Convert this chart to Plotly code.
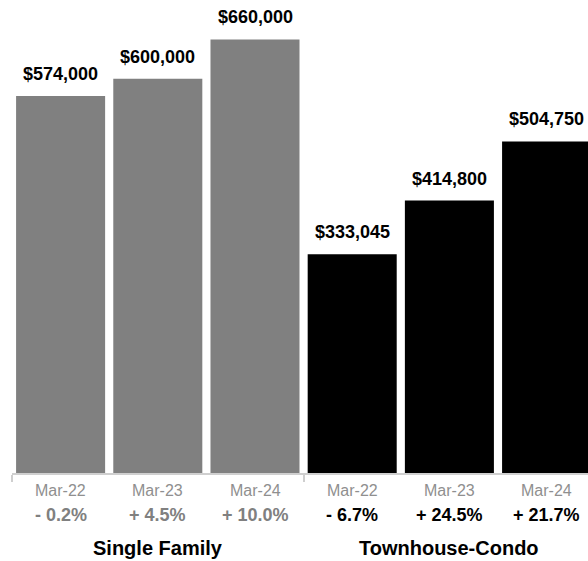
import plotly.graph_objects as go

# Median sale price by month, two property types
months = ["Mar-22", "Mar-23", "Mar-24"]
groups = ["Single Family", "Townhouse-Condo"]
single_family = [574000, 600000, 660000]
townhouse_condo = [333045, 414800, 504750]
sf_change = [-0.2, 4.5, 10.0]
tc_change = [-6.7, 24.5, 21.7]

FONT = "Liberation Sans, Arial, Helvetica, sans-serif"
SF_COLOR = "#808080"
TC_COLOR = "#000000"
LABEL_GRAY = "#8f8f8f"
AXIS_GRAY = "#cfcfcf"


def fmt_price(v):
    return "${:,}".format(v)


def fmt_change(v):
    sign = "+" if v >= 0 else "-"
    return f"{sign} {abs(v):.1f}%"


n = len(months)
sf_x = list(range(n))
tc_x = [n + i for i in range(n)]

fig = go.Figure()
fig.add_trace(go.Bar(x=sf_x, y=single_family, marker=dict(color=SF_COLOR, line=dict(width=0)),
                     name=groups[0], hoverinfo="skip"))
fig.add_trace(go.Bar(x=tc_x, y=townhouse_condo, marker=dict(color=TC_COLOR, line=dict(width=0)),
                     name=groups[1], hoverinfo="skip"))

annotations = []
series = [
    (sf_x, single_family, sf_change, SF_COLOR),
    (tc_x, townhouse_condo, tc_change, TC_COLOR),
]
for xs, vals, changes, pct_color in series:
    for x, v, m, c in zip(xs, vals, months, changes):
        # value label above each bar
        annotations.append(dict(x=x, y=v, xref="x", yref="y", text=f"<b>{fmt_price(v)}</b>",
                                showarrow=False, yanchor="bottom", yshift=10,
                                font=dict(family=FONT, size=18, color="#000000")))
        # month label under the axis
        annotations.append(dict(x=x, y=-0.036, xref="x", yref="paper", text=m,
                                showarrow=False, yanchor="middle",
                                font=dict(family=FONT, size=16, color=LABEL_GRAY)))
        # year-over-year change
        annotations.append(dict(x=x, y=-0.089, xref="x", yref="paper", text=f"<b>{fmt_change(c)}</b>",
                                showarrow=False, yanchor="middle",
                                font=dict(family=FONT, size=18, color=pct_color)))

# group titles centred under each set of bars
for xs, name in zip([sf_x, tc_x], groups):
    annotations.append(dict(x=xs[len(xs) // 2], y=-0.158, xref="x", yref="paper", text=f"<b>{name}</b>",
                            showarrow=False, yanchor="middle",
                            font=dict(family=FONT, size=20, color="#000000")))

fig.update_layout(
    width=588, height=561,
    margin=dict(l=12, r=0, t=0, b=88),
    paper_bgcolor="white", plot_bgcolor="white",
    showlegend=False,
    bargap=0.084,
    annotations=annotations,
    xaxis=dict(range=[-0.5, 5.426], tickvals=[-0.5, 2.5], ticktext=["", ""],
               ticks="outside", ticklen=7, tickwidth=2, tickcolor=AXIS_GRAY,
               showline=True, linecolor=AXIS_GRAY, linewidth=2,
               showgrid=False, zeroline=False, fixedrange=True),
    yaxis=dict(range=[0, 720000], visible=False, showgrid=False, zeroline=False, fixedrange=True),
)

fig.write_html("out.html")
